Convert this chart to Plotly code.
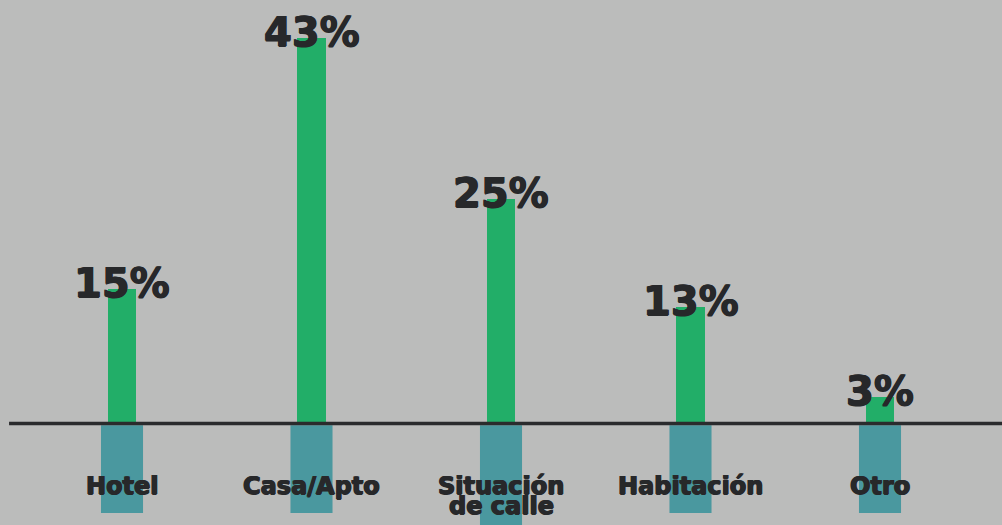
import plotly.graph_objects as go

# Lugar donde pernoctan
categorias = ["Hotel", "Casa/Apto", "Situación<br>de calle", "Habitación", "Otro"]
porcentajes = [15, 43, 25, 13, 3]

VERDE = "#22AE68"
TEAL = "#4A989F"
FONDO = "#BBBCBB"
TEXTO = "#27282A"
FUENTE = "DejaVu Sans"
# trazo extra para engrosar las letras
GROSOR = f"0.7px 0 0 {TEXTO}, -0.7px 0 0 {TEXTO}, 0 0.5px 0 {TEXTO}"

x = list(range(len(categorias)))

fig = go.Figure()
fig.add_trace(go.Bar(
    x=x, y=porcentajes, width=0.148,
    marker=dict(color=VERDE, line=dict(width=0)),
    hoverinfo="skip",
))

shapes = []
annotations = []
for i, (cat, val) in enumerate(zip(categorias, porcentajes)):
    # bloque de color bajo la línea base
    y0 = 0.0 if "<br>" in cat else 0.023
    shapes.append(dict(type="rect", xref="x", yref="paper",
                       x0=i - 0.111, x1=i + 0.111, y0=y0, y1=0.19,
                       fillcolor=TEAL, line=dict(width=0), layer="below"))
    # etiqueta del valor sobre la barra
    annotations.append(dict(x=i, y=val, xref="x", yref="y",
                            text=f"{val}%", showarrow=False,
                            yanchor="middle", yshift=6,
                            font=dict(family=FUENTE, size=40, color=TEXTO,
                                      weight="bold", shadow=GROSOR)))
    # nombre de la categoría, una anotación por línea
    for j, linea in enumerate(cat.split("<br>")):
        annotations.append(dict(x=i, y=0.075, xref="x", yref="paper",
                                text=linea, showarrow=False,
                                yanchor="middle", yshift=-20 * j,
                                font=dict(family=FUENTE, size=24, color=TEXTO,
                                          weight="bold", shadow=GROSOR)))

# línea base
shapes.append(dict(type="line", xref="x", yref="y",
                   x0=-0.596, x1=4.7, y0=0, y1=0,
                   line=dict(color="#2A2B2D", width=3.5), layer="above"))

fig.update_layout(
    width=1002, height=525,
    margin=dict(l=0, r=0, t=0, b=0),
    paper_bgcolor=FONDO, plot_bgcolor=FONDO,
    showlegend=False,
    xaxis=dict(range=[-0.6438, 4.6438], visible=False, fixedrange=True),
    yaxis=dict(range=[-11.32, 47.24], visible=False, fixedrange=True),
    shapes=shapes,
    annotations=annotations,
    bargap=0,
)

fig.write_html("out.html", config={"displayModeBar": False})
